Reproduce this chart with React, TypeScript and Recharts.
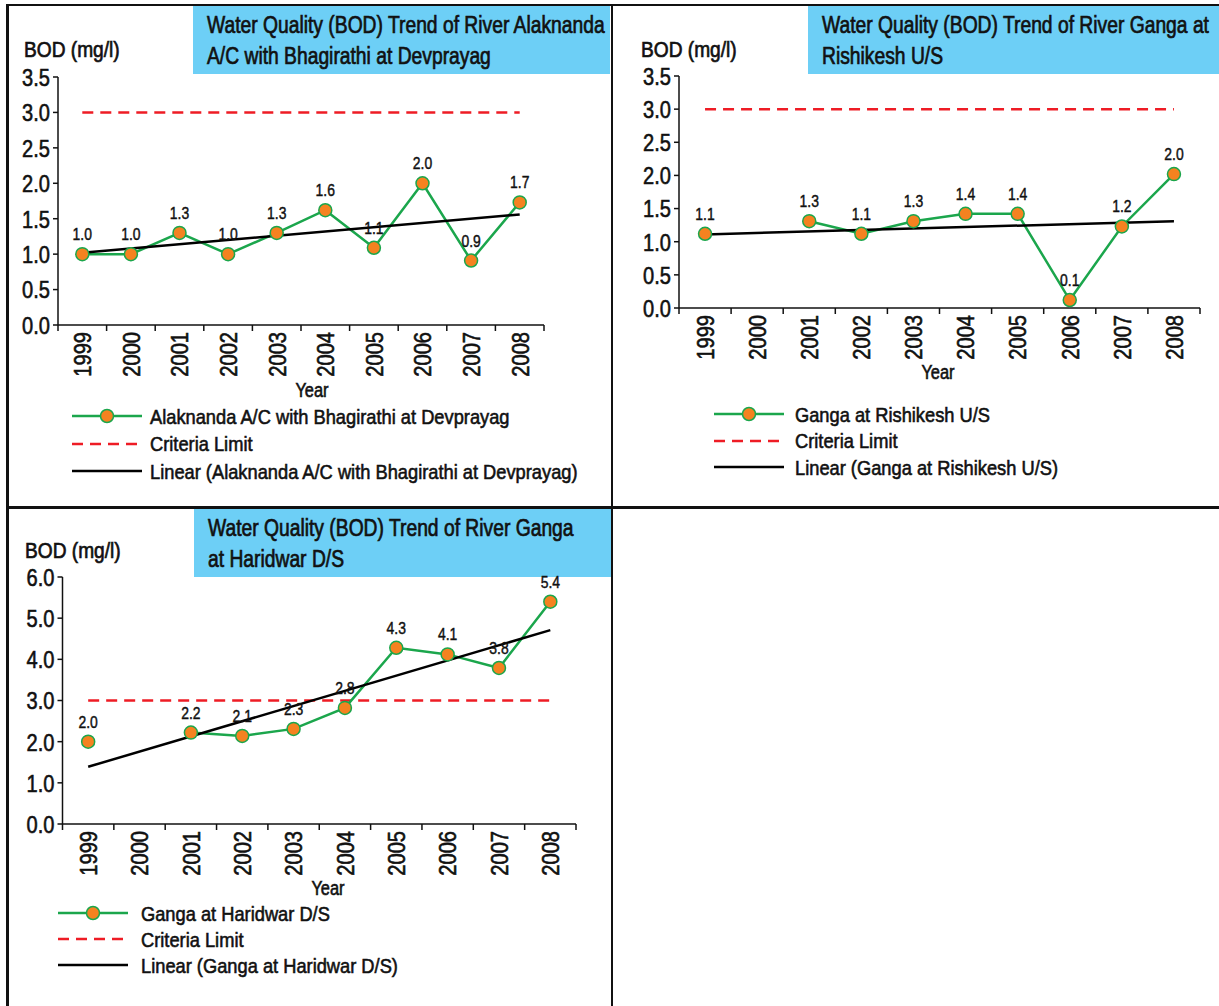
import React from 'react';
import { LineChart, Line, XAxis, YAxis, LabelList } from 'recharts';

// ---------- data ----------
const YEARS = ['1999', '2000', '2001', '2002', '2003', '2004', '2005', '2006', '2007', '2008'];
const ALAKNANDA = [1.0, 1.0, 1.3, 1.0, 1.3, 1.62, 1.09, 2.0, 0.91, 1.73];
const RISHIKESH = [1.12, null, 1.31, 1.12, 1.31, 1.42, 1.42, 0.12, 1.23, 2.02];
const HARIDWAR = [2.0, null, 2.22, 2.14, 2.31, 2.82, 4.28, 4.12, 3.79, 5.4];
// linear trend line: value at 1999 and at 2008
const TREND_ALAKNANDA = [1.02, 1.56];
const TREND_RISHIKESH = [1.11, 1.31];
const TREND_HARIDWAR = [1.39, 4.71];
const CRITERIA_LIMIT = 3.0;
const TICKS_SMALL = [0, 0.5, 1, 1.5, 2, 2.5, 3, 3.5];
const TICKS_LARGE = [0, 1, 2, 3, 4, 5, 6];

const FONT = "'Liberation Sans', Arial, sans-serif";
const NARROW = 0.82;
const GREEN = '#1BA64C';
const ORANGE = '#F58220';
const RED = '#EE1C25';
const BLUE = '#6DCFF6';
const INK = '#111';
const WEIGHT = 0.6; // extra stroke to imitate the medium-weight condensed face

function buildData(values: (number | null)[], trend: number[]) {
  return YEARS.map((y, i) => ({
    year: y,
    value: values[i],
    limit: CRITERIA_LIMIT,
    trend: i === 0 ? trend[0] : i === YEARS.length - 1 ? trend[1] : null,
  }));
}

const svgText = { fontFamily: FONT, fill: INK, stroke: INK, strokeWidth: WEIGHT } as const;

const YearTick = (props: any) => {
  const { x, y, payload, index, bw } = props;
  return (
    <g>
      <text
        transform={`translate(${x},${y + 7}) rotate(-90) scale(${NARROW},1)`}
        textAnchor="end"
        dy="0.36em"
        fontSize={24.5}
        {...svgText}
      >
        {payload.value}
      </text>
      <line x1={x + bw / 2} x2={x + bw / 2} y1={y} y2={y + 6} stroke={INK} strokeWidth={1.5} />
      {index === 0 && <line x1={x - bw / 2} x2={x - bw / 2} y1={y} y2={y + 6} stroke={INK} strokeWidth={1.5} />}
    </g>
  );
};

const ValueTick = (props: any) => {
  const { x, y, payload } = props;
  return (
    <text
      transform={`translate(${x},${y}) scale(${NARROW},1)`}
      textAnchor="end"
      dy="0.36em"
      fontSize={24.5}
      {...svgText}
    >
      {Number(payload.value).toFixed(1)}
    </text>
  );
};

const PointLabel = (props: any) => {
  const { x, y, value } = props;
  if (value == null) return null;
  return (
    <text
      transform={`translate(${x},${y - 14}) scale(${NARROW},1)`}
      textAnchor="middle"
      fontSize={17}
      {...svgText}
      strokeWidth={0.45}
    >
      {Number(value).toFixed(1)}
    </text>
  );
};

type PanelProps = {
  left: number;
  top: number;
  width: number;
  height: number;
  margin: { top: number; right: number; bottom: number; left: number };
  values: (number | null)[];
  trend: number[];
  domainMax: number;
  ticks: number[];
};

function Panel({ left, top, width, height, margin, values, trend, domainMax, ticks }: PanelProps) {
  const data = buildData(values, trend);
  const yAxisWidth = 45;
  const plotWidth = width - margin.left - margin.right - yAxisWidth;
  const bw = plotWidth / YEARS.length;
  return (
    <div style={{ position: 'absolute', left, top }}>
      <LineChart width={width} height={height} data={data} margin={margin}>
        <XAxis
          dataKey="year"
          scale="band"
          height={60}
          tickSize={0}
          tickMargin={0}
          tickLine={false}
          axisLine={{ stroke: INK, strokeWidth: 1.5 }}
          interval={0}
          tick={(p: any) => <YearTick {...p} bw={bw} />}
        />
        <YAxis
          width={yAxisWidth}
          domain={[0, domainMax]}
          ticks={ticks}
          allowDataOverflow
          tickSize={5}
          tickMargin={3}
          tickLine={{ stroke: INK, strokeWidth: 1.5 }}
          axisLine={{ stroke: INK, strokeWidth: 1.5 }}
          tick={(p: any) => <ValueTick {...p} />}
        />
        <Line
          dataKey="limit"
          stroke={RED}
          strokeWidth={2.5}
          strokeDasharray="11 7"
          dot={false}
          activeDot={false}
          isAnimationActive={false}
        />
        <Line
          dataKey="value"
          stroke={GREEN}
          strokeWidth={2.5}
          connectNulls={false}
          dot={{ r: 6.5, fill: ORANGE, stroke: GREEN, strokeWidth: 1.5 }}
          activeDot={false}
          isAnimationActive={false}
        >
          <LabelList dataKey="value" content={(p: any) => <PointLabel {...p} />} />
        </Line>
        <Line
          dataKey="trend"
          stroke="#000"
          strokeWidth={2.5}
          connectNulls
          dot={false}
          activeDot={false}
          isAnimationActive={false}
        />
      </LineChart>
    </div>
  );
}

// HTML text helper: anchor 'start' or 'middle', cy = vertical centre of capitals
function Txt({ x, cy, size, scale = NARROW, anchor = 'start', stroke = WEIGHT, children }: any) {
  return (
    <div
      style={{
        position: 'absolute',
        left: x,
        top: cy - size * 0.49,
        fontFamily: FONT,
        fontSize: size,
        lineHeight: 1,
        color: INK,
        whiteSpace: 'nowrap',
        WebkitTextStroke: `${stroke}px ${INK}`,
        transform: anchor === 'middle' ? `translateX(-50%) scaleX(${scale})` : `scaleX(${scale})`,
        transformOrigin: anchor === 'middle' ? 'center top' : 'left top',
      }}
    >
      {children}
    </div>
  );
}

function TitleBox({ left, top, width, height, lines }: { left: number; top: number; width: number; height: number; lines: string[] }) {
  return (
    <div style={{ position: 'absolute', left, top, width, height, background: BLUE }}>
      <Txt x={14} cy={20} size={23.5} stroke={0.7}>{lines[0]}</Txt>
      <Txt x={14} cy={51} size={23.5} stroke={0.7}>{lines[1]}</Txt>
    </div>
  );
}

function LegendBlock({ left, top, textLeft, rowGap, name }: { left: number; top: number; textLeft: number; rowGap: number; name: string }) {
  const rows = [
    { label: name, kind: 'series' },
    { label: 'Criteria Limit', kind: 'limit' },
    { label: `Linear (${name})`, kind: 'trend' },
  ];
  return (
    <>
      {rows.map((r, i) => {
        const cy = top + i * rowGap;
        return (
          <React.Fragment key={r.kind}>
            <svg style={{ position: 'absolute', left, top: cy - 8 }} width={70} height={16}>
              {r.kind === 'series' && (
                <>
                  <line x1={0} x2={70} y1={8} y2={8} stroke={GREEN} strokeWidth={2.5} />
                  <circle cx={35} cy={8} r={6.5} fill={ORANGE} stroke={GREEN} strokeWidth={1.5} />
                </>
              )}
              {r.kind === 'limit' && (
                <line x1={0} x2={70} y1={8} y2={8} stroke={RED} strokeWidth={2.5} strokeDasharray="11 7" />
              )}
              {r.kind === 'trend' && <line x1={0} x2={70} y1={8} y2={8} stroke="#000" strokeWidth={2.5} />}
            </svg>
            <Txt x={textLeft} cy={cy} size={21} scale={0.87}>{r.label}</Txt>
          </React.Fragment>
        );
      })}
    </>
  );
}

export default function App() {
  return (
    <div style={{ position: 'absolute', left: 0, top: 0, width: 1219, height: 1006, background: '#fff', overflow: 'hidden' }}>
      {/* panel borders */}
      <div style={{ position: 'absolute', left: 6, top: 3.5, width: 1213, height: 2.5, background: INK }} />
      <div style={{ position: 'absolute', left: 6, top: 3.5, width: 2.5, height: 1003, background: INK }} />
      <div style={{ position: 'absolute', left: 610.5, top: 3.5, width: 2.5, height: 1003, background: INK }} />
      <div style={{ position: 'absolute', left: 6, top: 506, width: 1213, height: 2.5, background: INK }} />

      {/* Panel 1 */}
      <TitleBox left={193} top={6} width={417} height={68} lines={['Water Quality (BOD) Trend of River Alaknanda', 'A/C with Bhagirathi at Devprayag']} />
      <Txt x={24} cy={50} size={22} scale={0.87} stroke={0.7}>BOD (mg/l)</Txt>
      <Panel
        left={0}
        top={0}
        width={610}
        height={400}
        margin={{ top: 77, right: 66, bottom: 15, left: 13 }}
        values={ALAKNANDA}
        trend={TREND_ALAKNANDA}
        domainMax={3.5}
        ticks={TICKS_SMALL}
      />
      <Txt x={312} cy={390} size={20} anchor="middle">Year</Txt>
      <LegendBlock left={72} top={416} textLeft={150} rowGap={27.5} name="Alaknanda A/C with Bhagirathi at Devprayag" />

      {/* Panel 2 */}
      <TitleBox left={808} top={6} width={411} height={68} lines={['Water Quality (BOD) Trend of River Ganga at', 'Rishikesh U/S']} />
      <Txt x={641} cy={50} size={22} scale={0.87} stroke={0.7}>BOD (mg/l)</Txt>
      <Panel
        left={612}
        top={0}
        width={607}
        height={400}
        margin={{ top: 76, right: 19, bottom: 32, left: 22 }}
        values={RISHIKESH}
        trend={TREND_RISHIKESH}
        domainMax={3.5}
        ticks={TICKS_SMALL}
      />
      <Txt x={938} cy={372} size={20} anchor="middle">Year</Txt>
      <LegendBlock left={714} top={414} textLeft={795} rowGap={26.5} name="Ganga at Rishikesh U/S" />

      {/* Panel 3 */}
      <TitleBox left={194} top={509} width={417} height={68} lines={['Water Quality (BOD) Trend of River Ganga', 'at Haridwar D/S']} />
      <Txt x={25} cy={551} size={22} scale={0.87} stroke={0.7}>BOD (mg/l)</Txt>
      <Panel
        left={0}
        top={507}
        width={610}
        height={400}
        margin={{ top: 70, right: 34, bottom: 23, left: 17.5 }}
        values={HARIDWAR}
        trend={TREND_HARIDWAR}
        domainMax={6}
        ticks={TICKS_LARGE}
      />
      <Txt x={328} cy={888} size={20} anchor="middle">Year</Txt>
      <LegendBlock left={58} top={913} textLeft={141} rowGap={26} name="Ganga at Haridwar D/S" />
    </div>
  );
}
